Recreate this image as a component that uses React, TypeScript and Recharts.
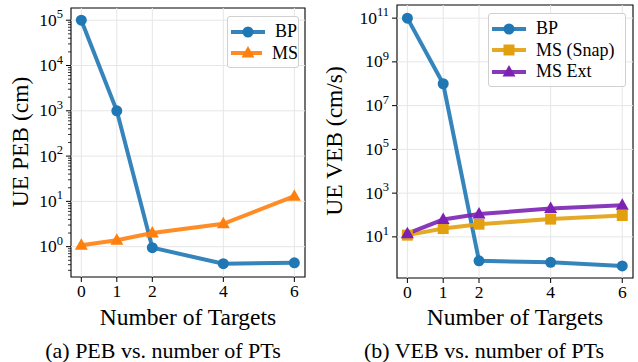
import React from 'react';
import { LineChart, Line, XAxis, YAxis, ReferenceLine, ReferenceArea } from 'recharts';

// number of targets (x)
const targets = [0, 1, 2, 4, 6];

// (a) PEB in cm
const pebBP = [1e5, 1e3, 0.95, 0.42, 0.44];
const pebMS = [1.07, 1.38, 2.0, 3.2, 13];

// (b) VEB in cm/s
const vebBP = [1e11, 1e8, 0.8, 0.69, 0.47];
const vebSnap = [12, 24, 38, 65, 95];
const vebExt = [14, 62, 110, 200, 280];

// decade exponents that carry a label
const pebExps = [0, 1, 2, 3, 4, 5];
const vebExps = [1, 3, 5, 7, 9, 11];

const FONT = '"Liberation Serif", serif';
const BLUE = '#1f77b4';
const ORANGE = '#ff7f0e';
const GOLD = '#e3a00e';
const PURPLE = '#7b22b4';
const GRID = '#e6e6e6';

const pebData = targets.map((t, i) => ({ t, bp: pebBP[i], ms: pebMS[i] }));
const vebData = targets.map((t, i) => ({ t, bp: vebBP[i], snap: vebSnap[i], ext: vebExt[i] }));

const pebDomain: [number, number] = [Math.pow(10, -0.67), Math.pow(10, 5.27)];
const vebDomain: [number, number] = [Math.pow(10, -0.88), Math.pow(10, 11.6)];
const xDomain: [number, number] = [-0.29, 6.3];

// minor log ticks for the left panel
const pebMinor: number[] = [];
for (let d = -1; d <= 5; d++) {
    for (let k = 2; k <= 9; k++) {
        const v = k * Math.pow(10, d);
        if (v > pebDomain[0] && v < pebDomain[1]) pebMinor.push(v);
    }
}

const LogTick = (props: any) => {
    const { x, y, payload } = props;
    const lg = Math.log10(payload.value);
    const major = Math.abs(lg - Math.round(lg)) < 1e-6;
    if (!major) {
        return <line x1={x - 3} x2={x} y1={y} y2={y} stroke="#000" strokeWidth={0.8} />;
    }
    return (
        <g>
            <line x1={x - 5} x2={x} y1={y} y2={y} stroke="#000" strokeWidth={1} />
            <text x={x - 8} y={y + 5.5} textAnchor="end" fontFamily={FONT} fontSize={17.5} fill="#000">
                10<tspan dy={-7.5} fontSize={12.5}>{Math.round(lg)}</tspan>
            </text>
        </g>
    );
};

const makeDot = (shape: string, color: string) => (p: any) => {
    const { cx, cy, index } = p;
    if (cx == null || cy == null) return <g key={index} />;
    if (shape === 'tri') {
        return (
            <polygon key={index} points={`${cx},${cy - 7} ${cx - 6.5},${cy + 4.5} ${cx + 6.5},${cy + 4.5}`}
                fill={color} />
        );
    }
    if (shape === 'sq') {
        return <rect key={index} x={cx - 5.5} y={cy - 5.5} width={11} height={11} fill={color} />;
    }
    return <circle key={index} cx={cx} cy={cy} r={5.5} fill={color} />;
};

const LegendIcon = ({ shape, color }: { shape: string; color: string }) => (
    <svg width={34} height={14} style={{ display: 'block' }}>
        <line x1={0} x2={34} y1={7} y2={7} stroke={color} strokeWidth={4} opacity={0.9} />
        {shape === 'tri' && <polygon points="17,0 10.5,11.5 23.5,11.5" fill={color} />}
        {shape === 'sq' && <rect x={11.5} y={1.5} width={11} height={11} fill={color} />}
        {shape === 'circle' && <circle cx={17} cy={7} r={5.5} fill={color} />}
    </svg>
);

const LegendBox = ({ items, left, top, width }: any) => (
    <div style={{
        position: 'absolute', left, top, width, boxSizing: 'border-box',
        border: '1px solid #d0d0d0', borderRadius: 3, background: 'rgba(255,255,255,0.85)',
        padding: '4px 0 3px 3px', fontFamily: FONT, fontSize: 18, color: '#000',
    }}>
        {items.map((it: any) => (
            <div key={it.name} style={{ display: 'flex', alignItems: 'center', height: 21.5 }}>
                <LegendIcon shape={it.shape} color={it.color} />
                <span style={{ marginLeft: 10 }}>{it.name}</span>
            </div>
        ))}
    </div>
);

const xTick = { fill: '#000', fontFamily: FONT, fontSize: 17.5 };

export default function App() {
    return (
        <div style={{ position: 'absolute', left: 0, top: 0, width: 638, height: 362, background: '#fff', overflow: 'hidden' }}>
            {/* (a) PEB */}
            <div style={{ position: 'absolute', left: 0, top: 0 }}>
                <LineChart width={320} height={362} data={pebData} margin={{ top: 8, right: 15, bottom: 0, left: 0 }}>
                    <XAxis dataKey="t" type="number" domain={xDomain} ticks={targets} allowDataOverflow
                        height={85} tick={xTick} tickSize={5} tickMargin={3} axisLine={false}
                        tickLine={{ stroke: '#000' }} interval={0} />
                    <YAxis type="number" scale="log" domain={pebDomain} allowDataOverflow width={71}
                        ticks={[...pebExps.map((e) => Math.pow(10, e)), ...pebMinor]} interval={0}
                        tick={<LogTick />} tickSize={0} tickMargin={0} tickLine={false} axisLine={false} />
                    {targets.map((t) => (
                        <ReferenceLine key={'vx' + t} x={t} stroke={GRID} strokeWidth={1} />
                    ))}
                    {pebExps.map((e) => (
                        <ReferenceLine key={'hy' + e} y={Math.pow(10, e)} stroke={GRID} strokeWidth={1} />
                    ))}
                    <ReferenceArea x1={xDomain[0]} x2={xDomain[1]} y1={pebDomain[0]} y2={pebDomain[1]}
                        fill="none" stroke="#000" strokeWidth={1.1} />
                    <Line dataKey="bp" stroke={BLUE} strokeWidth={4} strokeOpacity={0.9}
                        dot={makeDot('circle', BLUE)} isAnimationActive={false} />
                    <Line dataKey="ms" stroke={ORANGE} strokeWidth={4} strokeOpacity={0.9}
                        dot={makeDot('tri', ORANGE)} isAnimationActive={false} />
                </LineChart>
            </div>

            {/* (b) VEB */}
            <div style={{ position: 'absolute', left: 320, top: 0 }}>
                <LineChart width={318} height={362} data={vebData} margin={{ top: 5, right: 5, bottom: 0, left: 0 }}>
                    <XAxis dataKey="t" type="number" domain={xDomain} ticks={targets} allowDataOverflow
                        height={84} tick={xTick} tickSize={5} tickMargin={3} axisLine={false}
                        tickLine={{ stroke: '#000' }} interval={0} />
                    <YAxis type="number" scale="log" domain={vebDomain} allowDataOverflow width={77}
                        ticks={vebExps.map((e) => Math.pow(10, e))} interval={0}
                        tick={<LogTick />} tickSize={0} tickMargin={0} tickLine={false} axisLine={false} />
                    {targets.map((t) => (
                        <ReferenceLine key={'vx' + t} x={t} stroke={GRID} strokeWidth={1} />
                    ))}
                    {vebExps.map((e) => (
                        <ReferenceLine key={'hy' + e} y={Math.pow(10, e)} stroke={GRID} strokeWidth={1} />
                    ))}
                    <ReferenceArea x1={xDomain[0]} x2={xDomain[1]} y1={vebDomain[0]} y2={vebDomain[1]}
                        fill="none" stroke="#000" strokeWidth={1.1} />
                    <Line dataKey="bp" stroke={BLUE} strokeWidth={4} strokeOpacity={0.9}
                        dot={makeDot('circle', BLUE)} isAnimationActive={false} />
                    <Line dataKey="snap" stroke={GOLD} strokeWidth={4} strokeOpacity={0.9}
                        dot={makeDot('sq', GOLD)} isAnimationActive={false} />
                    <Line dataKey="ext" stroke={PURPLE} strokeWidth={4} strokeOpacity={0.9}
                        dot={makeDot('tri', PURPLE)} isAnimationActive={false} />
                </LineChart>
            </div>

            <LegendBox left={227} top={16} width={72}
                items={[{ name: 'BP', shape: 'circle', color: BLUE }, { name: 'MS', shape: 'tri', color: ORANGE }]} />
            <LegendBox left={488} top={13} width={138}
                items={[
                    { name: 'BP', shape: 'circle', color: BLUE },
                    { name: 'MS (Snap)', shape: 'sq', color: GOLD },
                    { name: 'MS Ext', shape: 'tri', color: PURPLE },
                ]} />

            {/* titles and captions */}
            <svg width={638} height={362} style={{ position: 'absolute', left: 0, top: 0, pointerEvents: 'none' }}>
                <g fontFamily={FONT} fill="#000">
                    <text x={188} y={325} textAnchor="middle" fontSize={23.5}>Number of Targets</text>
                    <text x={515} y={325} textAnchor="middle" fontSize={23.5}>Number of Targets</text>
                    <text transform="translate(28,142) rotate(-90)" textAnchor="middle" fontSize={23.5}>UE PEB (cm)</text>
                    <text transform="translate(342,141) rotate(-90)" textAnchor="middle" fontSize={23.5}>UE VEB (cm/s)</text>
                    <text x={163} y={358} textAnchor="middle" fontSize={22}>(a) PEB vs. number of PTs</text>
                    <text x={484} y={358} textAnchor="middle" fontSize={22}>(b) VEB vs. number of PTs</text>
                </g>
            </svg>
        </div>
    );
}
